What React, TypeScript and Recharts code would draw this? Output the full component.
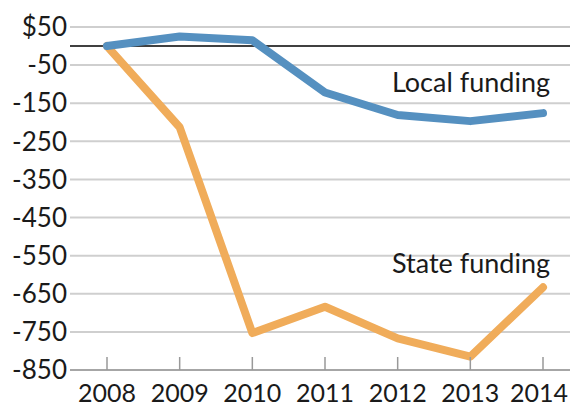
import { LineChart, Line, XAxis, YAxis, CartesianGrid, ReferenceLine, ReferenceDot } from 'recharts';

const years = ['2008', '2009', '2010', '2011', '2012', '2013', '2014'];
const localFunding = [0, 25, 15, -122, -181, -197, -176];
const stateFunding = [0, -213, -753, -684, -767, -815, -633];
const yTicks = [50, -50, -150, -250, -350, -450, -550, -650, -750, -850];

const FONT = 'Lato, "Open Sans", sans-serif';
const TEXT = '#1a1a1a';

const data = years.map((year, i) => ({
  year,
  local: localFunding[i],
  state: stateFunding[i],
}));

const YearTick = (props: any) => {
  const { x, y, payload } = props;
  // keep the last label inside the right edge
  const last = payload.value === years[years.length - 1];
  return (
    <g>
      <line x1={x} x2={x} y1={y - 13} y2={y} stroke="#999" strokeWidth={1.5} />
      <text
        x={last ? 568 : x}
        y={y + 32}
        textAnchor={last ? 'end' : 'middle'}
        fill={TEXT}
        fontSize={25}
        fontFamily={FONT}
      >
        {payload.value}
      </text>
    </g>
  );
};

const seriesLabel = (text: string) => (props: any) => {
  const { viewBox } = props;
  return (
    <text
      x={viewBox.x + 7}
      y={viewBox.y}
      textAnchor="end"
      dominantBaseline="central"
      fill={TEXT}
      fontSize={27}
      fontFamily={FONT}
    >
      {text}
    </text>
  );
};

export default function App() {
  return (
    <div style={{ position: 'absolute', left: 0, top: 0, background: '#fff' }}>
      <LineChart width={570} height={408} data={data} margin={{ top: 27, right: 0, bottom: 0, left: 0 }}>
        <CartesianGrid vertical={false} stroke="#cfcfcf" strokeWidth={2} />
        <XAxis
          dataKey="year"
          height={38}
          tickSize={0}
          tickMargin={0}
          tickLine={false}
          axisLine={{ stroke: '#999', strokeWidth: 1.5 }}
          padding={{ left: 37, right: 27 }}
          tick={<YearTick />}
          interval={0}
        />
        <YAxis
          width={70}
          domain={[-850, 50]}
          ticks={yTicks}
          axisLine={false}
          tickLine={false}
          tickSize={0}
          tickMargin={3}
          tick={{ fill: TEXT, fontSize: 26, fontFamily: FONT }}
          tickFormatter={(v: number) => (v > 0 ? `$${v}` : `${v}`)}
        />
        <ReferenceLine y={0} stroke="#000" strokeWidth={1.5} />
        <Line
          dataKey="state"
          type="linear"
          stroke="#f0ac5a"
          strokeWidth={8}
          strokeLinecap="round"
          strokeLinejoin="round"
          dot={false}
          activeDot={false}
          isAnimationActive={false}
        />
        <Line
          dataKey="local"
          type="linear"
          stroke="#5590c0"
          strokeWidth={8}
          strokeLinecap="round"
          strokeLinejoin="round"
          dot={false}
          activeDot={false}
          isAnimationActive={false}
        />
        <ReferenceDot x="2014" y={-94} r={0} fill="none" stroke="none" label={seriesLabel('Local funding')} />
        <ReferenceDot x="2014" y={-567} r={0} fill="none" stroke="none" label={seriesLabel('State funding')} />
      </LineChart>
    </div>
  );
}
